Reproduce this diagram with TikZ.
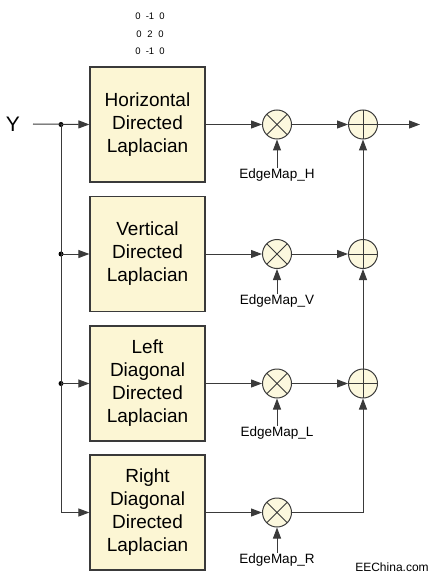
\documentclass[tikz,border=0pt]{standalone}
\usepackage{fontspec}
\setmainfont{Liberation Sans}
\usetikzlibrary{arrows.meta}
\definecolor{boxfill}{HTML}{FCF6D4}
\definecolor{circfill}{HTML}{FCF8DE}
\definecolor{edge}{HTML}{3A3A3A}
\tikzset{
  blk/.style={draw=edge, line width=1.2pt, fill=boxfill, minimum width=115pt,
    minimum height=115pt, align=center, inner sep=0pt,
    font=\fontsize{19}{23}\selectfont},
  mult/.style={circle, draw=edge, line width=1pt, fill=circfill, minimum size=29pt,
    inner sep=0pt, path picture={\draw[edge, line width=0.9pt]
      (path picture bounding box.north west) -- (path picture bounding box.south east)
      (path picture bounding box.north east) -- (path picture bounding box.south west);}},
  adder/.style={circle, draw=edge, line width=1pt, fill=circfill, minimum size=29pt,
    inner sep=0pt, path picture={\draw[edge, line width=0.9pt]
      (path picture bounding box.north) -- (path picture bounding box.south)
      (path picture bounding box.east) -- (path picture bounding box.west);}},
  sig/.style={draw=edge, line width=1pt, -{Triangle[length=11pt,width=8pt]}},
  wire/.style={draw=edge, line width=1pt},
  lbl/.style={font=\fontsize{13.5}{16}\selectfont, inner sep=1pt},
  mat/.style={font=\fontsize{9.5}{11}\selectfont, inner sep=0pt},
  junc/.style={circle, fill=black, minimum size=5pt, inner sep=0pt}
}
\begin{document}
\begin{tikzpicture}[x=1pt,y=-1pt]
\useasboundingbox (0,0) rectangle (435,580);

% kernel matrix
\node[mat] (k1) at (150,16) {0\hspace{0.55em}-1\hspace{0.55em}0};
\node[mat] (k2) at (150,34) {0\hspace{0.6em}2\hspace{0.6em}0};
\node[mat] (k3) at (150,51) {0\hspace{0.55em}-1\hspace{0.55em}0};

% input
\node[font=\fontsize{21}{24}\selectfont, inner sep=0pt] (Y) at (13,124) {Y};
\coordinate (yin) at (33,124);

% blocks
\node[blk] (b1) at (147.5,124.5) {Horizontal\\Directed\\Laplacian};
\node[blk] (b2) at (147.5,254) {Vertical\\Directed\\Laplacian};
\node[blk] (b3) at (147.5,383.5) {Left\\Diagonal\\Directed\\Laplacian};
\node[blk] (b4) at (147.5,512.5) {Right\\Diagonal\\Directed\\Laplacian};

% junctions
\node[junc] (d1) at (61,124.5) {};
\node[junc] (d2) at (61,254) {};
\node[junc] (d3) at (61,383.5) {};

\draw[sig] (yin) -- (b1.west);
\draw[wire] (d1.center) -- (d3.center);
\draw[sig] (d2.center) -- (b2.west);
\draw[sig] (d3.center) -- (b3.west);
\draw[sig] (d3.center) |- (b4.west);

% multipliers
\node[mult] (m1) at (277,124.5) {};
\node[mult] (m2) at (277,254) {};
\node[mult] (m3) at (277,383.5) {};
\node[mult] (m4) at (277,512.5) {};

% adders
\node[adder] (a1) at (363,124.5) {};
\node[adder] (a2) at (363,254) {};
\node[adder] (a3) at (363,383.5) {};
\coordinate (out) at (420,124.5);

% edge map labels
\node[lbl] (e1) at (277,175) {EdgeMap\_H};
\node[lbl] (e2) at (277,301) {EdgeMap\_V};
\node[lbl] (e3) at (277,433) {EdgeMap\_L};
\node[lbl] (e4) at (277,560) {EdgeMap\_R};

\foreach \i in {1,2,3,4} {
  \draw[sig] (b\i.east) -- (m\i.west);
  \draw[sig] (e\i.north) -- (m\i.south);
}
\foreach \i in {1,2,3} {
  \draw[sig] (m\i.east) -- (a\i.west);
}
\draw[sig] (m4.east) -| (a3.south);
\draw[sig] (a3.north) -- (a2.south);
\draw[sig] (a2.north) -- (a1.south);
\draw[sig] (a1.east) -- (out);

% watermark
\node[font=\fontsize{12}{14}\selectfont, inner sep=0pt] (wm) at (392,567) {EEChina.com};
\end{tikzpicture}
\end{document}
